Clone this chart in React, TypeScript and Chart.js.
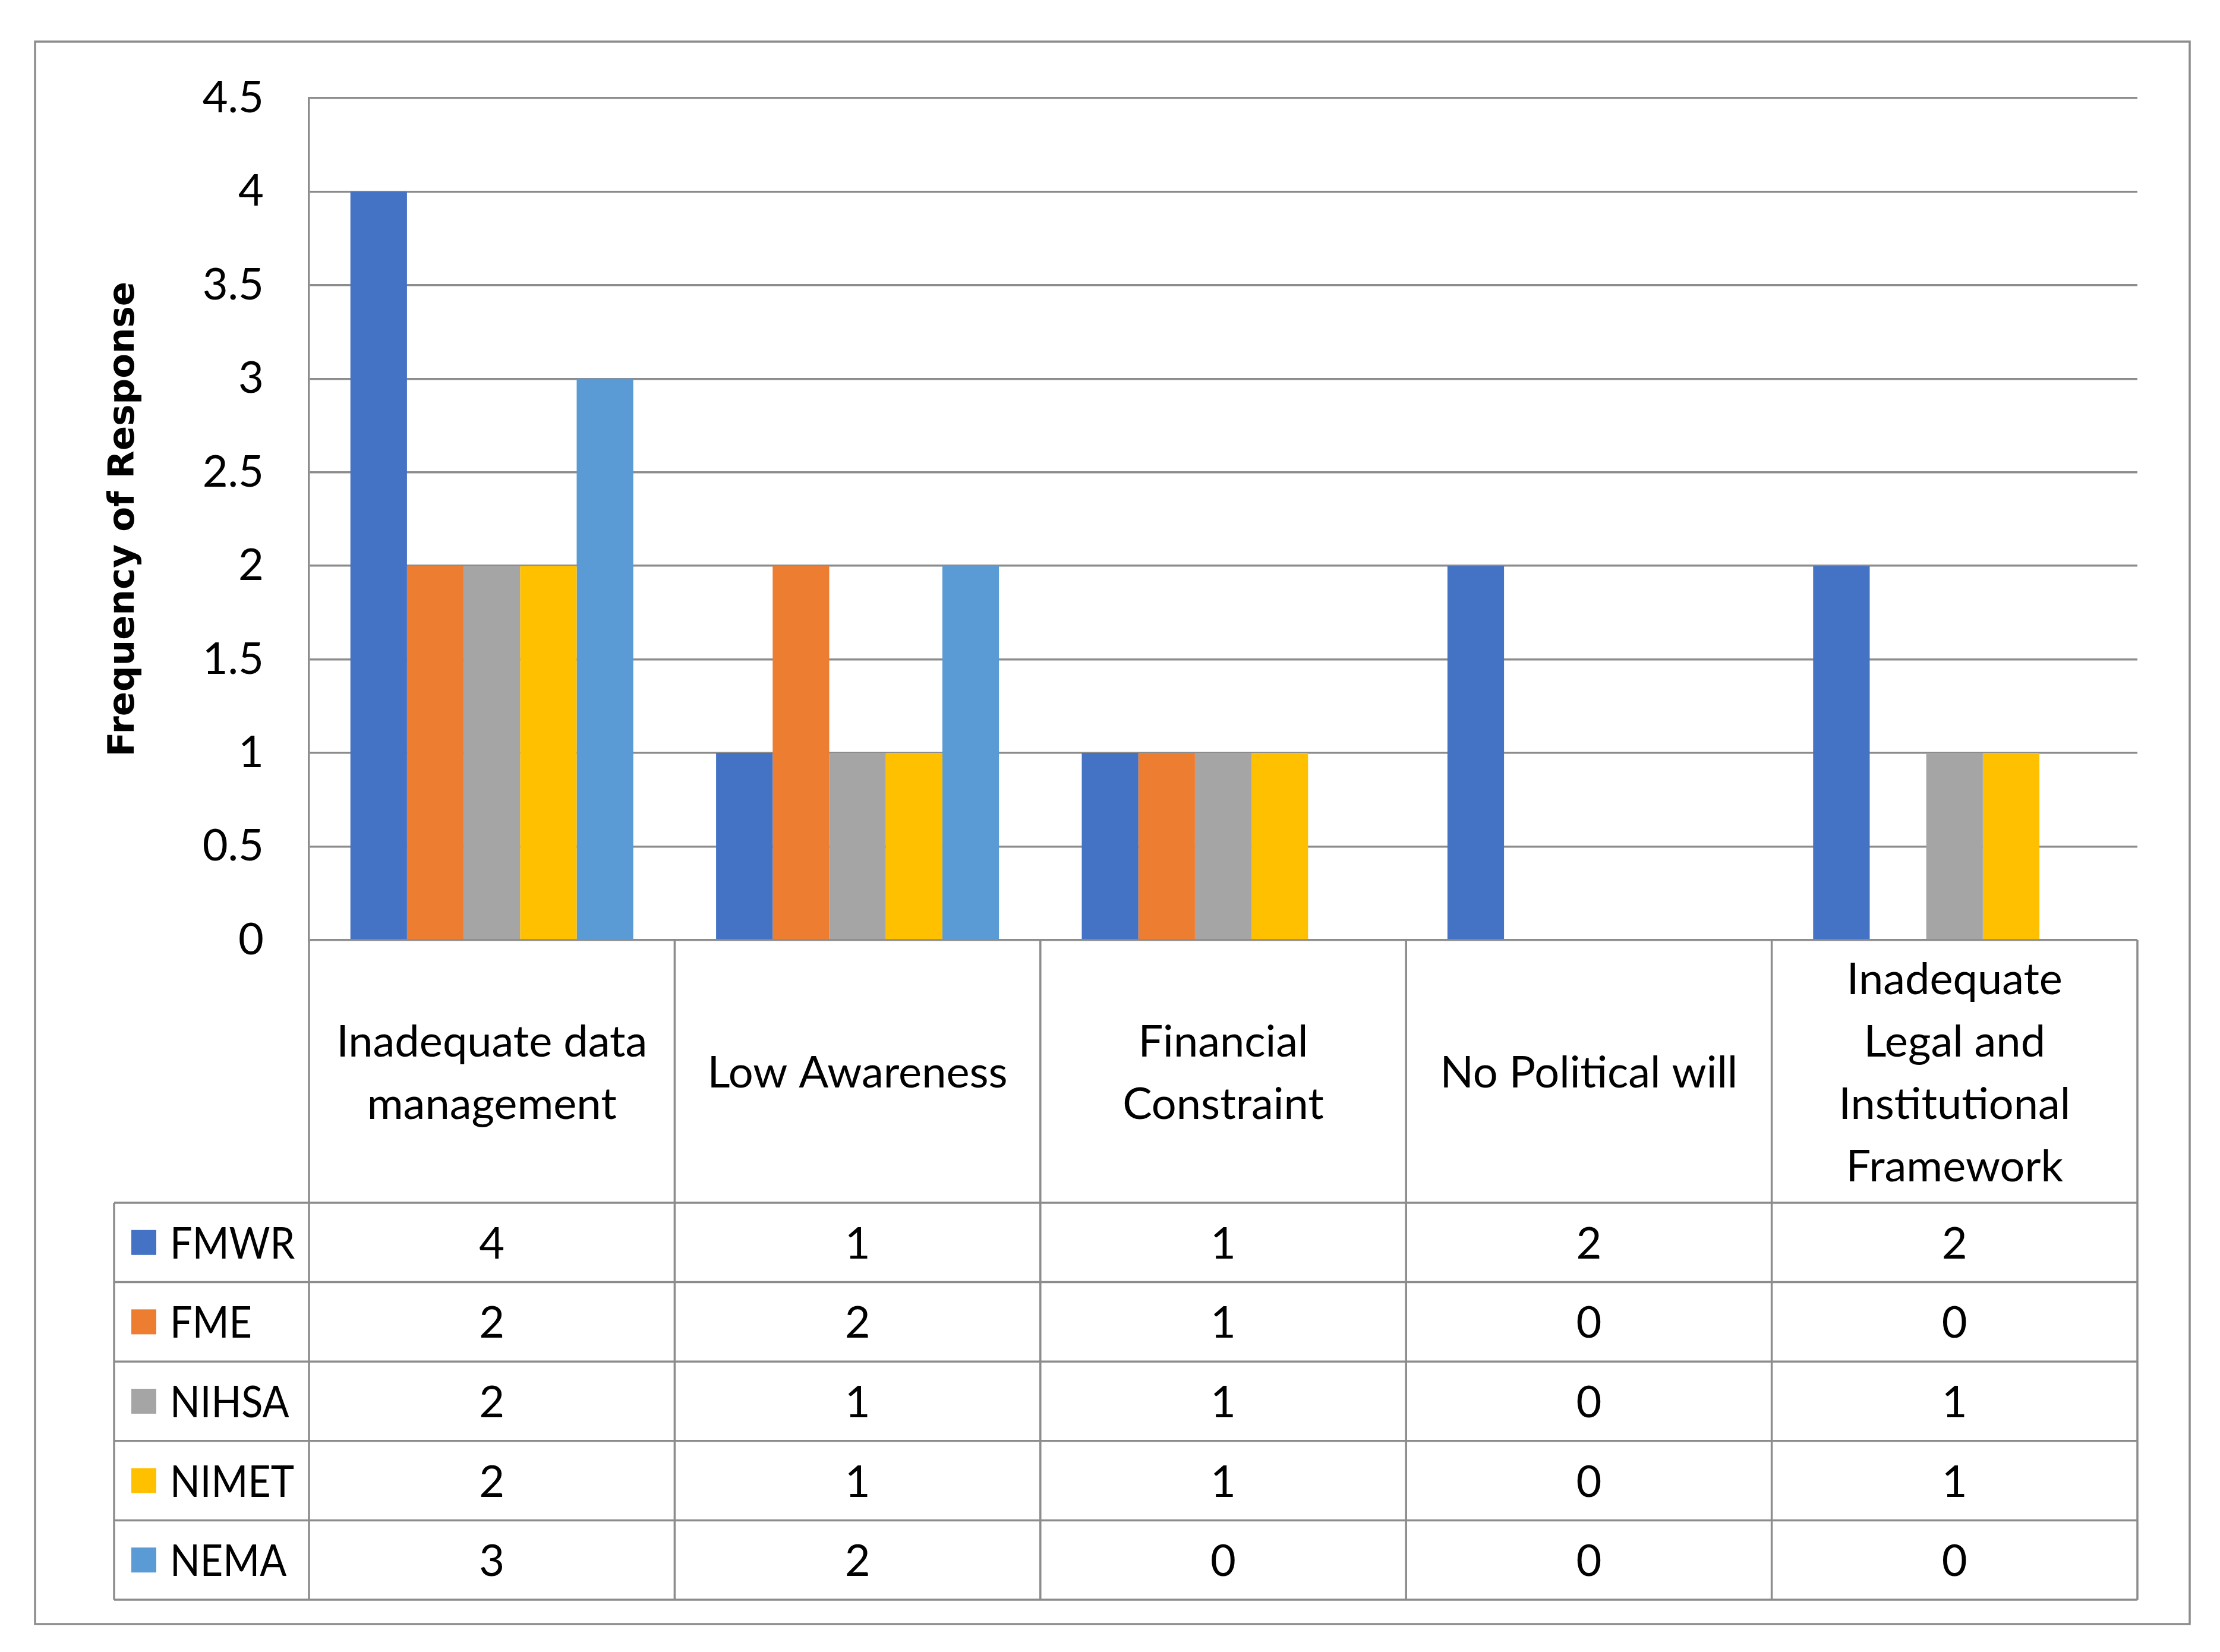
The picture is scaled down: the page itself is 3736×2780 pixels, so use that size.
import React, { useEffect, useRef } from 'react';
import { Chart, registerables } from 'chart.js';

Chart.register(...registerables);

// ---- Data ----
const categories: string[][] = [
  ['Inadequate data', 'management'],
  ['Low Awareness'],
  ['Financial', 'Constraint'],
  ['No Political will'],
  ['Inadequate', 'Legal and', 'Institutional', 'Framework'],
];
const seriesNames = ['FMWR', 'FME', 'NIHSA', 'NIMET', 'NEMA'];
const FMWR = [4, 1, 1, 2, 2];
const FME = [2, 2, 1, 0, 0];
const NIHSA = [2, 1, 1, 0, 1];
const NIMET = [2, 1, 1, 0, 1];
const NEMA = [3, 2, 0, 0, 0];
const seriesColors = ['#4472C4', '#ED7D31', '#A5A5A5', '#FFC000', '#5B9BD5'];
const yAxisTitle = 'Frequency of Response';
const yMin = 0;
const yMax = 4.5;
const yStep = 0.5;

// ---- Styles ----
const W = 3736;
const H = 2780;
const LINE = '#8c8c8c';
const LW = 3.5;
const TEXT_FONT = '74px Lato';
const HEADER_H = 442;
const ROW_H = 133.6;
const TABLE_LEFT = 192;

const tablePlugin = {
  id: 'dataTable',
  afterDraw(chart: any) {
    const { ctx, chartArea: ca } = chart;
    const xScale = chart.scales.x;
    const n = categories.length;
    const colW = (ca.right - ca.left) / n;
    const headerBottom = ca.bottom + HEADER_H;
    const ds = chart.data.datasets;
    const tableBottom = headerBottom + ROW_H * ds.length;
    ctx.save();
    ctx.strokeStyle = LINE;
    ctx.lineWidth = LW;
    ctx.beginPath();
    for (let i = 0; i <= n; i++) {
      const x = ca.left + i * colW;
      ctx.moveTo(x, ca.bottom);
      ctx.lineTo(x, tableBottom);
    }
    ctx.moveTo(TABLE_LEFT, headerBottom);
    ctx.lineTo(TABLE_LEFT, tableBottom);
    for (let r = 0; r <= ds.length; r++) {
      const y = headerBottom + r * ROW_H;
      ctx.moveTo(TABLE_LEFT, y);
      ctx.lineTo(ca.right, y);
    }
    ctx.stroke();

    ctx.fillStyle = '#000';
    ctx.font = TEXT_FONT;
    ctx.textAlign = 'center';
    ctx.textBaseline = 'alphabetic';
    const capHalf = 27;
    const headerCenter = (ca.bottom + headerBottom) / 2;
    for (let i = 0; i < n; i++) {
      const cx = xScale.getPixelForValue(i);
      const lines = categories[i];
      lines.forEach((line, j) => {
        const y = headerCenter + capHalf + (j - (lines.length - 1) / 2) * 105;
        ctx.fillText(line, cx, y);
      });
    }

    ds.forEach((d: any, r: number) => {
      const cy = headerBottom + (r + 0.5) * ROW_H;
      ctx.fillStyle = d.backgroundColor;
      ctx.fillRect(221, cy - 21, 42, 42);
      ctx.fillStyle = '#000';
      ctx.textAlign = 'left';
      const w = ctx.measureText(d.label).width;
      ctx.fillText(d.label, 286, cy + capHalf, Math.min(w * 0.9, 212));
      ctx.textAlign = 'center';
      d.data.forEach((v: number, i: number) => {
        ctx.fillText(String(v), xScale.getPixelForValue(i), cy + capHalf);
      });
    });

    // outer frame
    ctx.strokeRect(59, 70, 3626, 2663);
    ctx.restore();
  },
};

export default function App() {
  const ref = useRef<HTMLCanvasElement | null>(null);
  useEffect(() => {
    if (!ref.current) return;
    const seriesValues = [FMWR, FME, NIHSA, NIMET, NEMA];
    const chart = new Chart(ref.current, {
      type: 'bar',
      data: {
        labels: categories.map((c) => c.join(' ')),
        datasets: seriesNames.map((name, k) => ({
          label: name,
          data: seriesValues[k],
          backgroundColor: seriesColors[k],
          borderWidth: 0,
          categoryPercentage: 0.7735,
          barPercentage: 1,
        })),
      },
      options: {
        responsive: false,
        devicePixelRatio: 1,
        animation: false,
        layout: { padding: { left: 0, top: 165, right: W - 3597, bottom: H - 1582 } },
        plugins: { legend: { display: false }, tooltip: { enabled: false }, title: { display: false } },
        scales: {
          x: { display: false },
          y: {
            min: yMin,
            max: yMax,
            afterFit: (scale: any) => {
              scale.width = 520;
            },
            ticks: {
              stepSize: yStep,
              color: '#000',
              padding: 76,
              font: { family: 'Lato', size: 74 },
              callback: (v: any) => String(Number(v)),
            },
            grid: { color: LINE, lineWidth: LW, drawTicks: false },
            border: { color: LINE, width: LW },
            title: {
              display: true,
              text: yAxisTitle,
              color: '#000',
              font: { family: 'DejaVu Sans', size: 61, weight: 'bold' },
              padding: { top: 173, bottom: 0 },
            },
          },
        },
      },
      plugins: [tablePlugin],
    });
    return () => chart.destroy();
  }, []);
  return (
    <div style={{ position: 'absolute', left: 0, top: 0, width: W, height: H, background: '#fff' }}>
      <canvas ref={ref} width={W} height={H} style={{ width: W, height: H, display: 'block' }} />
    </div>
  );
}
